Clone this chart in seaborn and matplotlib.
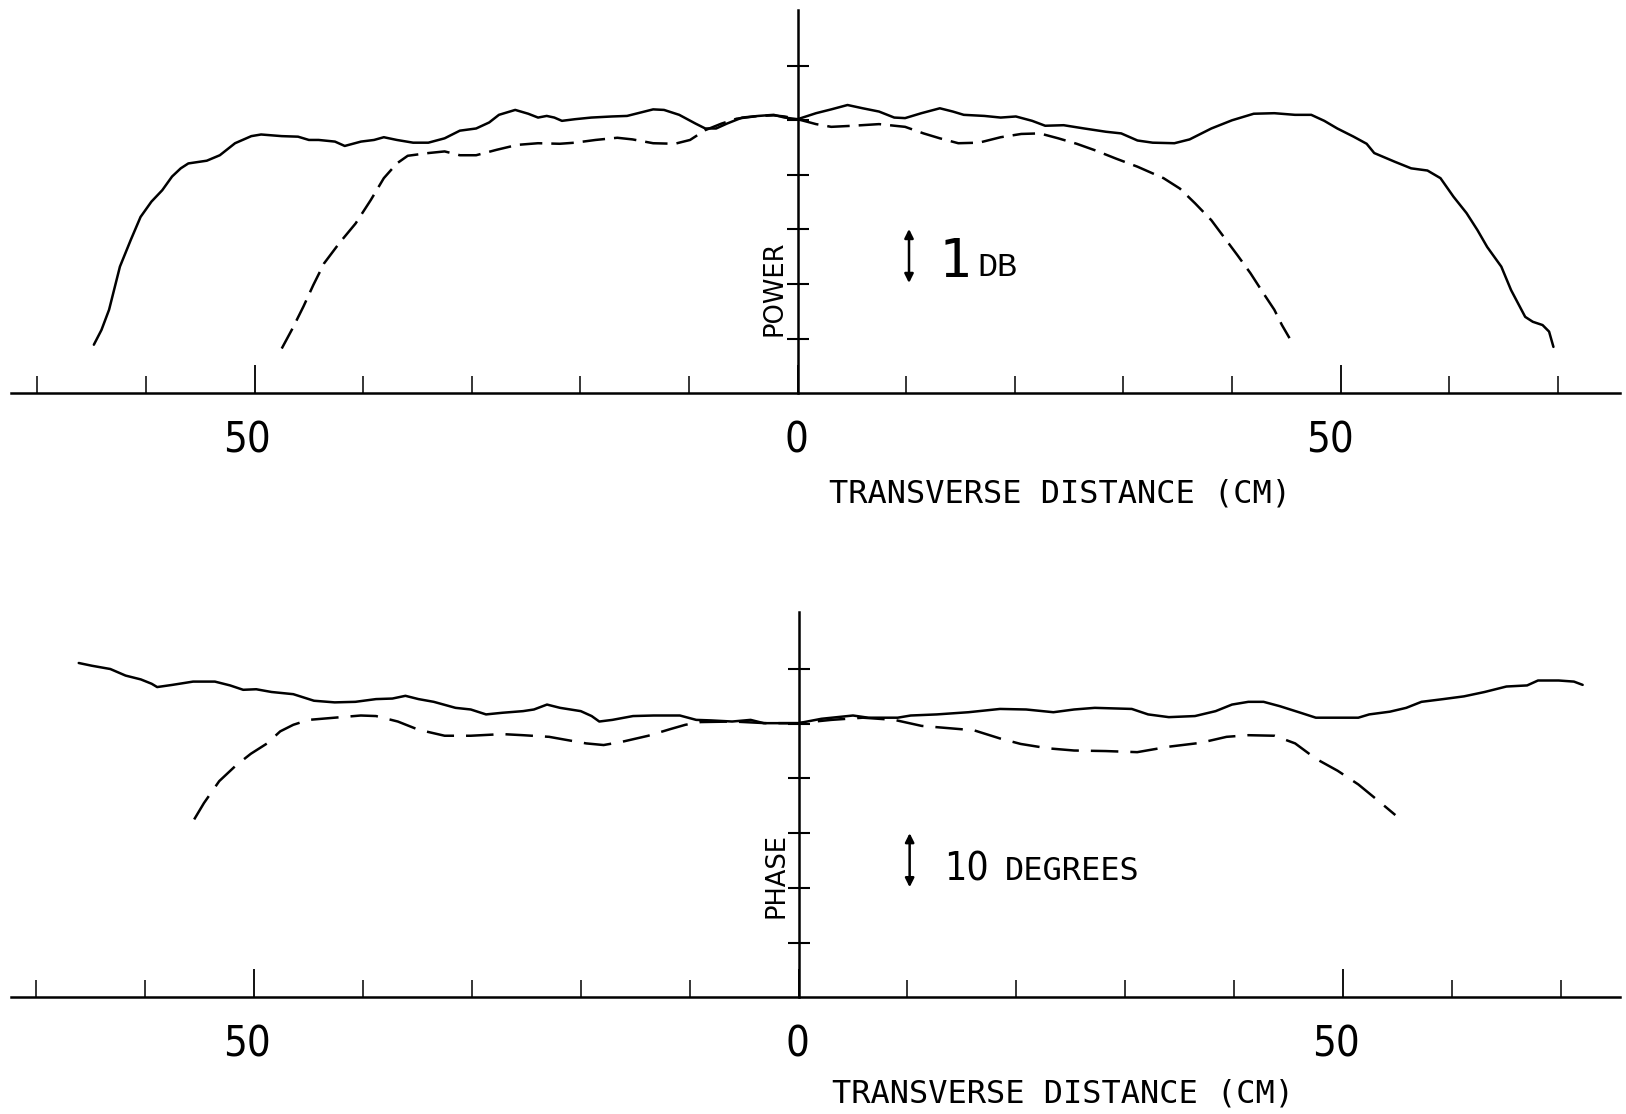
import numpy as np
import pandas as pd
import matplotlib
matplotlib.use("Agg")
import matplotlib.pyplot as plt
import matplotlib.transforms as mtransforms
from matplotlib import font_manager as fm
import seaborn as sns

# ---------------- data ----------------
# Upper panel: relative power (dB) versus transverse distance (cm)
power_solid_x = [-64.8, -64.1, -63.4, -62.4, -61.4, -60.5, -59.5, -58.5, -57.6, -56.8,
                 -56.1, -54.4, -53.2, -51.8, -50.3, -49.4, -47.5, -46.0, -45.0, -44.1,
                 -42.6, -41.7, -40.2, -39.0, -38.1, -36.9, -35.4, -34.0, -32.5, -31.1,
                 -29.6, -28.4, -27.5, -26.0, -24.8, -23.9, -23.1, -22.4, -21.7, -20.5,
                 -19.0, -17.1, -15.7, -14.7, -13.3, -12.3, -10.9, -9.4, -8.5, -7.5,
                 -6.5, -5.1, -3.6, -2.2, -1.2, 0.0,
                 1.7, 3.1, 4.6, 6.0, 7.5, 8.9, 9.9, 11.4, 13.1, 14.3,
                 15.3, 17.2, 18.7, 20.1, 21.6, 22.8, 24.5, 26.4, 28.4, 29.8,
                 31.3, 32.7, 34.7, 36.1, 38.1, 40.0, 42.0, 43.9, 45.8, 47.3,
                 48.5, 49.7, 51.2, 52.4, 53.1, 55.0, 56.5, 58.0, 59.2, 60.4,
                 61.6, 62.6, 63.5, 64.8, 65.7, 67.0, 67.7, 68.6, 69.2, 69.6]
power_solid_db = [0.89, 1.16, 1.53, 2.32, 2.81, 3.23, 3.51, 3.72, 3.97, 4.12,
                  4.21, 4.26, 4.36, 4.58, 4.71, 4.74, 4.71, 4.70, 4.64, 4.64,
                  4.61, 4.53, 4.61, 4.64, 4.69, 4.64, 4.59, 4.59, 4.67, 4.81,
                  4.85, 4.96, 5.10, 5.19, 5.12, 5.05, 5.08, 5.05, 4.99, 5.02,
                  5.05, 5.07, 5.08, 5.13, 5.20, 5.19, 5.10, 4.94, 4.85, 4.85,
                  4.94, 5.05, 5.08, 5.10, 5.05, 5.02,
                  5.13, 5.20, 5.28, 5.22, 5.16, 5.05, 5.04, 5.13, 5.22, 5.16,
                  5.10, 5.08, 5.05, 5.07, 4.99, 4.90, 4.91, 4.85, 4.79, 4.76,
                  4.63, 4.59, 4.58, 4.65, 4.85, 5.00, 5.12, 5.13, 5.10, 5.10,
                  4.99, 4.85, 4.70, 4.57, 4.40, 4.24, 4.12, 4.08, 3.94, 3.60,
                  3.30, 2.99, 2.68, 2.32, 1.89, 1.40, 1.31, 1.25, 1.13, 0.85]

power_dashed_x = [-47.5, -46.5, -45.5, -44.6, -43.6, -42.2, -40.7, -39.3, -38.1, -36.9,
                  -35.9, -34.0, -32.5, -31.1, -29.6, -27.7, -25.8, -23.9, -21.9, -20.5,
                  -18.6, -16.6, -15.2, -13.3, -11.3, -9.9, -8.5, -7.0, -5.6, -3.6,
                  -2.2, -1.2, 0.0,
                  1.7, 3.1, 5.1, 7.5, 9.9, 11.6, 13.1, 14.8, 16.7, 18.7,
                  20.6, 22.3, 24.0, 25.7, 27.4, 29.3, 31.3, 33.7, 35.2, 36.6,
                  38.1, 39.0, 40.5, 41.7, 42.9, 43.9, 44.6, 45.3]
power_dashed_db = [0.82, 1.19, 1.59, 1.98, 2.38, 2.75, 3.11, 3.54, 3.94, 4.21,
                   4.35, 4.40, 4.43, 4.36, 4.36, 4.46, 4.55, 4.58, 4.57, 4.59,
                   4.64, 4.68, 4.65, 4.58, 4.57, 4.64, 4.82, 4.94, 5.03, 5.08,
                   5.09, 5.07, 5.02,
                   4.93, 4.88, 4.90, 4.93, 4.88, 4.76, 4.67, 4.58, 4.59, 4.69,
                   4.75, 4.76, 4.67, 4.57, 4.45, 4.30, 4.15, 3.94, 3.75, 3.48,
                   3.17, 2.93, 2.53, 2.20, 1.83, 1.53, 1.25, 1.01]

# Lower panel: phase (degrees) versus transverse distance (cm)
phase_solid_x = [-66.1, -64.9, -63.2, -61.8, -60.4, -59.4, -58.9, -57.5, -55.6, -53.6,
                 -52.2, -51.0, -49.8, -48.4, -46.4, -44.5, -42.6, -40.7, -38.8, -37.3,
                 -36.1, -34.9, -33.5, -31.5, -30.1, -28.7, -27.2, -25.3, -24.3, -23.1,
                 -21.9, -20.0, -19.0, -18.3, -17.1, -15.2, -13.3, -10.9, -9.4, -8.0,
                 -6.1, -4.4, -3.2, -1.8, 0.0,
                 2.1, 5.0, 6.4, 9.1, 10.3, 12.7, 15.6, 18.5, 20.9, 23.4,
                 25.3, 27.2, 30.6, 32.1, 34.0, 36.4, 38.3, 39.8, 41.3, 42.7,
                 44.2, 46.1, 47.5, 49.5, 51.4, 52.4, 54.3, 55.8, 57.2, 59.2,
                 61.1, 63.0, 65.0, 66.9, 67.9, 69.8, 71.2, 72.0]
phase_solid_deg = [61.1, 60.6, 60.0, 58.8, 58.1, 57.3, 56.7, 57.1, 57.7, 57.7,
                   57.0, 56.2, 56.3, 55.8, 55.4, 54.2, 53.9, 54.0, 54.5, 54.6,
                   55.1, 54.5, 54.0, 52.9, 52.6, 51.7, 52.0, 52.3, 52.6, 53.5,
                   52.9, 52.3, 51.4, 50.4, 50.7, 51.4, 51.5, 51.5, 50.7, 50.6,
                   50.4, 50.7, 50.1, 50.1, 50.1,
                   50.9, 51.5, 51.1, 51.1, 51.5, 51.7, 52.1, 52.7, 52.6, 52.1,
                   52.6, 52.9, 52.7, 51.7, 51.2, 51.4, 52.3, 53.5, 54.0, 54.0,
                   53.2, 52.0, 51.1, 51.1, 51.1, 51.7, 52.2, 52.9, 54.0, 54.5,
                   55.0, 55.8, 56.8, 57.0, 57.9, 57.9, 57.7, 57.1]

phase_dashed_x = [-55.5, -54.6, -53.2, -51.7, -50.3, -48.8, -47.6, -46.4, -45.0, -42.6,
                  -40.2, -38.8, -36.8, -34.9, -32.5, -30.1, -27.2, -25.3, -22.9, -21.5,
                  -19.5, -17.9, -16.2, -13.8, -11.8, -10.4, -9.0, -6.0, -3.0, 0.0,
                  3.0, 5.9, 8.8, 11.3, 13.7, 16.1, 18.5, 20.4, 22.9, 25.3,
                  28.2, 31.1, 34.0, 36.9, 39.3, 41.3, 43.7, 45.6, 47.5, 49.5,
                  51.4, 53.3, 54.8]
phase_dashed_deg = [32.5, 35.5, 39.5, 42.3, 44.5, 46.4, 48.6, 49.8, 50.7, 51.1,
                    51.5, 51.4, 50.4, 48.9, 47.8, 47.8, 48.1, 47.9, 47.6, 47.1,
                    46.4, 46.1, 46.7, 47.8, 49.0, 49.8, 50.3, 50.4, 50.1, 50.1,
                    50.7, 51.1, 50.7, 49.6, 49.2, 48.8, 47.3, 46.3, 45.5, 45.1,
                    45.0, 44.8, 45.8, 46.5, 47.6, 47.9, 47.8, 46.4, 43.6, 41.4,
                    38.9, 35.8, 33.3]

x_major = [-50, 0, 50]
x_major_labels = ["50", "0", "50"]
x_minor = [-70, -60, -40, -30, -20, -10, 10, 20, 30, 40, 60, 70]
power_ticks = [1, 2, 3, 4, 5, 6]
phase_ticks = [10, 20, 30, 40, 50, 60]
axis_title = "TRANSVERSE DISTANCE (CM)"

# ---------------- style ----------------
sns.set_theme(style="white")
plt.rcParams["font.family"] = ["DejaVu Sans"]
plt.rcParams["text.color"] = "black"


def _is_regular(f):
    w = f.weight
    if isinstance(w, str):
        w = {"normal": 400, "regular": 400, "book": 400, "medium": 500}.get(w.lower(), 400)
    return f.style == "normal" and 380 <= int(w) <= 420


def narrow_props(size):
    """Find a condensed/narrow sans face if one is installed."""
    prefs = ["Liberation Sans Narrow", "DejaVu Sans", "Roboto Condensed", "Roboto",
             "Noto Sans", "Open Sans", "Noto Sans Condensed", "Open Sans Condensed"]
    cands = [f for f in fm.fontManager.ttflist
             if _is_regular(f) and ("condensed" in str(f.stretch).lower()
                                    or "Narrow" in f.name or "Condensed" in f.name)
             and "Mono" not in f.name and "Serif" not in f.name]
    for pname in prefs:
        for f in cands:
            if f.name == pname:
                return fm.FontProperties(fname=f.fname, size=size), True
    if cands:
        return fm.FontProperties(fname=cands[0].fname, size=size), True
    return fm.FontProperties(family="DejaVu Sans", size=size * 0.85), False


NUM_FP, HAVE_NARROW = narrow_props(30)
BIG10_FP, _ = narrow_props(28)

W, H = 1626, 1114
fig = plt.figure(figsize=(W / 100, H / 100), dpi=100)
fig.patch.set_facecolor("white")

panels = [
    dict(xs=power_solid_x, ys=power_solid_db, xd=power_dashed_x, yd=power_dashed_db,
         rect=[11 / W, 1 - 393.3 / H, 1609 / W, 383.3 / H],
         xlim=(-72.43, 75.73), ylim=(0, 7.02), yticks=power_ticks,
         dash=(9, 3.6), ylabel="POWER", ylabel_xy=(-2.1, 1.93),
         arrow=(10.26, 2.02, 3.01),
         big="1", big_xy=(13.0, 2.13),
         big_fp=fm.FontProperties(family="DejaVu Sans Mono", size=39),
         small="DB", small_xy=(16.6, 2.15),
         small_fp=fm.FontProperties(family="Liberation Mono", size=24),
         title_y=493.6, title_x=829, label_dx=[-8, -1, -11]),
    dict(xs=phase_solid_x, ys=phase_solid_deg, xd=phase_dashed_x, yd=phase_dashed_deg,
         rect=[11 / W, 1 - 997.2 / H, 1609 / W, 384.8 / H],
         xlim=(-72.32, 75.43), ylim=(0, 70.35), yticks=phase_ticks,
         dash=(11, 4.8), ylabel="PHASE", ylabel_xy=(-2.0, 22.3),
         arrow=(10.2, 20.1, 30.0),
         big="10", big_xy=(13.4, 21.4), big_fp=BIG10_FP,
         small="DEGREES", small_xy=(18.95, 21.4),
         small_fp=fm.FontProperties(family="DejaVu Sans Mono", size=23),
         title_y=1094, title_x=832, label_dx=[-7, -1, -7]),
]

for p in panels:
    ax = fig.add_axes(p["rect"])
    ax.patch.set_visible(False)
    df = pd.concat([
        pd.DataFrame({"x": p["xs"], "y": p["ys"], "trace": "solid"}),
        pd.DataFrame({"x": p["xd"], "y": p["yd"], "trace": "dashed"}),
    ], ignore_index=True)
    sns.lineplot(data=df, x="x", y="y", style="trace",
                 dashes={"solid": "", "dashed": p["dash"]},
                 color="black", lw=1.8, estimator=None, sort=False,
                 legend=False, ax=ax)
    ax.set_xlim(*p["xlim"])
    ax.set_ylim(*p["ylim"])
    ax.set_xlabel("")
    ax.set_ylabel("")

    for s in ("top", "right"):
        ax.spines[s].set_visible(False)
    ax.spines["left"].set_position(("data", 0))
    for s in ("left", "bottom"):
        ax.spines[s].set_color("black")
        ax.spines[s].set_linewidth(1.8)

    ax.set_xticks(x_major)
    ax.set_xticklabels(x_major_labels)
    for lab in ax.get_xticklabels():
        lab.set_fontproperties(NUM_FP)
        lab.set_color("black")
    ax.set_xticks(x_minor, minor=True)
    ax.tick_params(axis="x", which="major", direction="in", length=20, width=1.3,
                   color="black", labelcolor="black", pad=19, bottom=True)
    ax.tick_params(axis="x", which="minor", direction="in", length=12, width=1.1,
                   color="black", bottom=True)
    ax.set_yticks(p["yticks"])
    ax.set_yticklabels([])
    ax.tick_params(axis="y", which="major", direction="inout", length=16, width=1.5,
                   color="black", left=True)
    ax.grid(False)

    for lab, dx in zip(ax.get_xticklabels(), p["label_dx"]):
        lab.set_transform(lab.get_transform() +
                          mtransforms.ScaledTranslation(dx / 100, 0, fig.dpi_scale_trans))

    ax.text(p["ylabel_xy"][0], p["ylabel_xy"][1], p["ylabel"], rotation=90,
            ha="center", va="center", fontsize=18.5, family="DejaVu Sans", color="black")

    ax_x, y0, y1 = p["arrow"]
    ax.annotate("", xy=(ax_x, y1), xytext=(ax_x, y0),
                arrowprops=dict(arrowstyle="<|-|>", color="black", lw=1.8,
                                mutation_scale=13, shrinkA=0, shrinkB=0))
    ax.text(p["big_xy"][0], p["big_xy"][1], p["big"], ha="left", va="baseline",
            fontproperties=p["big_fp"], color="black")
    ax.text(p["small_xy"][0], p["small_xy"][1], p["small"], ha="left", va="baseline",
            fontproperties=p["small_fp"], color="black")

    fig.text(p["title_x"] / W, 1 - p["title_y"] / H, axis_title, ha="left", va="center",
             family="DejaVu Sans Mono", fontsize=23, color="black")

fig.savefig("out.png", dpi=100, facecolor="white")
